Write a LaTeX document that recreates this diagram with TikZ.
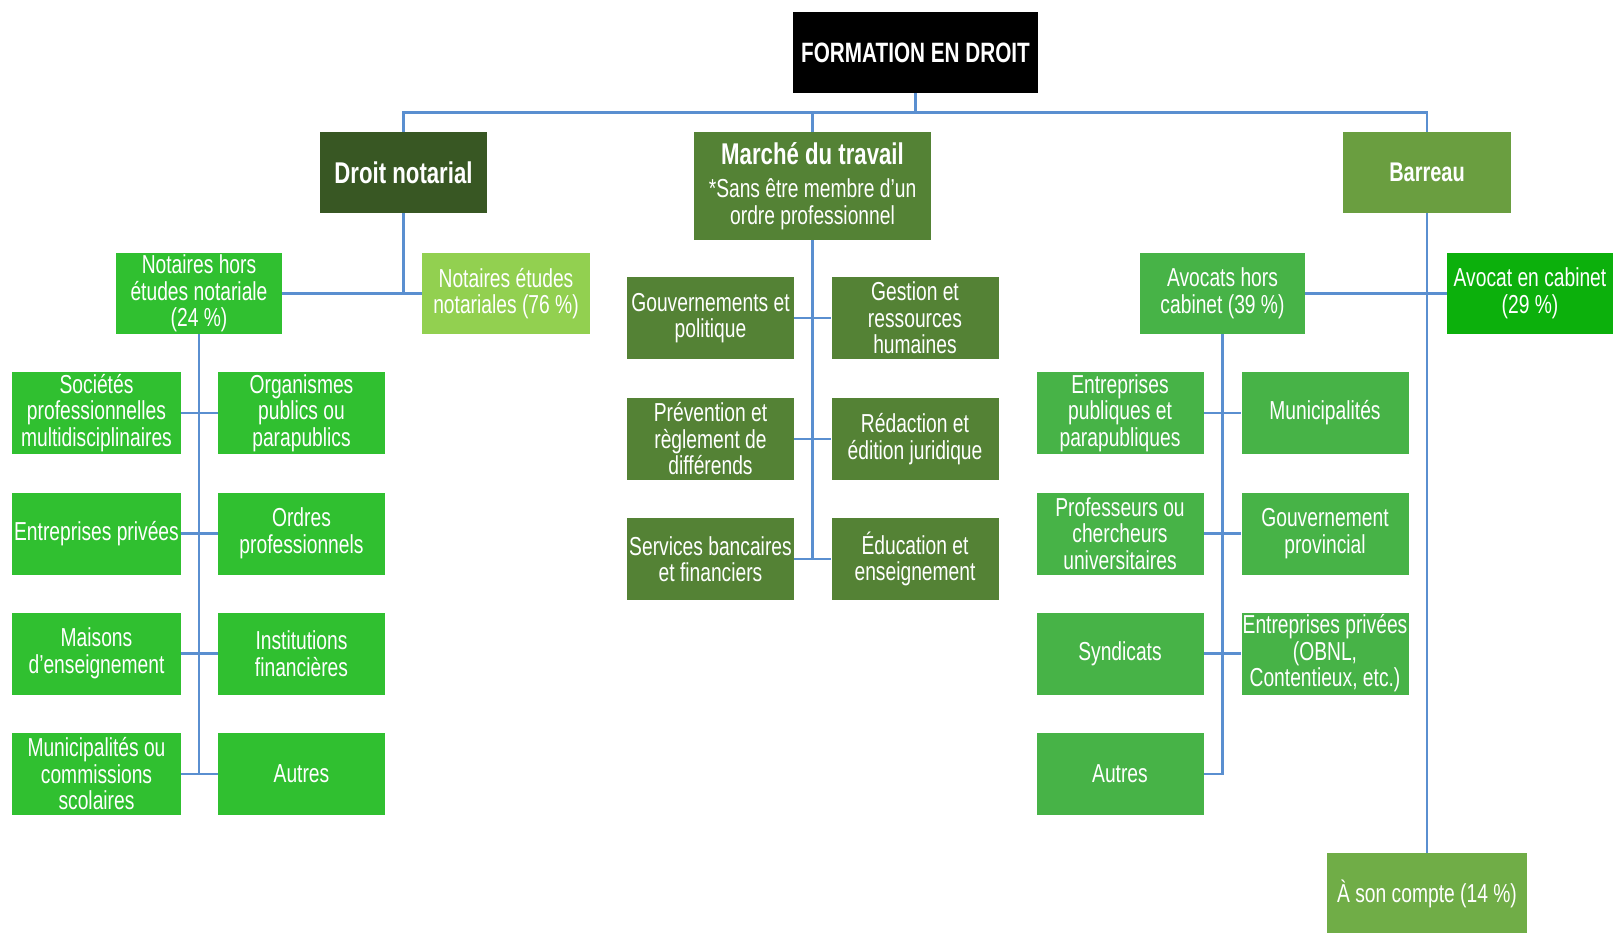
\documentclass[tikz,border=0pt]{standalone}
\usepackage{fontspec}
\setmainfont{Liberation Sans}[FakeStretch=0.74]
\definecolor{lineblue}{HTML}{5A8FD0}
\definecolor{cTop}{HTML}{000000}
\definecolor{cDroit}{HTML}{385723}
\definecolor{cMarche}{HTML}{548235}
\definecolor{cBarreau}{HTML}{6A9E40}
\definecolor{cCompte}{HTML}{70AD47}
\definecolor{cNhors}{HTML}{30C030}
\definecolor{cNetudes}{HTML}{92D050}
\definecolor{cAhors}{HTML}{47B347}
\definecolor{cAcab}{HTML}{0CB00C}
\tikzset{
  box/.style={rectangle, inner sep=0pt, align=center, text=white,
    font=\fontsize{26}{26.5}\selectfont, minimum height=82pt, minimum width=167pt},
  head/.style={box, font=\bfseries\fontsize{30}{32}\selectfont},
  conn/.style={draw=lineblue, line width=2.5pt},
}
\begin{document}
\begin{tikzpicture}[x=1pt,y=-1pt]
\useasboundingbox (0,0) rectangle (1619,932);
\clip (0,0) rectangle (1619,932);
\fill[white] (0,0) rectangle (1619,932);

% top level
\node[head, fill=cTop, minimum width=245pt, minimum height=81pt, font=\bfseries\fontsize{28}{30}\selectfont] (top) at (915.5,52.5) {FORMATION EN DROIT};
\node[head, fill=cDroit, minimum width=167pt, minimum height=81pt] (droit) at (403.5,172.5) {Droit notarial};
\node[box, fill=cMarche, minimum width=237pt, minimum height=108pt] (marche) at (812.5,186)
  {{\bfseries\fontsize{30}{32}\selectfont Marché du travail}\\[7pt]*Sans être membre d’un\\ordre professionnel};
\node[head, fill=cBarreau, minimum width=168pt, minimum height=81pt, font=\bfseries\fontsize{27}{30}\selectfont] (barreau) at (1427,172.5) {Barreau};

% second level
\node[box, fill=cNhors, minimum width=166pt, minimum height=81pt] (nhors) at (199,293.5) {Notaires hors\\études notariale\\(24 \%)};
\node[box, fill=cNetudes, minimum width=168pt, minimum height=81pt] (netudes) at (506,293.5) {Notaires études\\notariales (76 \%)};
\node[box, fill=cAhors, minimum width=165pt, minimum height=81pt] (ahors) at (1222.5,293.5) {Avocats hors\\cabinet (39 \%)};
\node[box, fill=cAcab, minimum width=166pt, minimum height=81pt] (acab) at (1530,293.5) {Avocat en cabinet\\(29 \%)};
\node[box, fill=cCompte, minimum width=200pt, minimum height=82pt] (compte) at (1427,894) {À son compte (14 \%)};

% notaires hors children
\node[box, fill=cNhors, minimum width=169pt] (l1) at (96.5,413) {Sociétés\\professionnelles\\multidisciplinaires};
\node[box, fill=cNhors, minimum width=169pt] (l2) at (96.5,533.5) {Entreprises privées};
\node[box, fill=cNhors, minimum width=169pt] (l3) at (96.5,653.5) {Maisons\\d’enseignement};
\node[box, fill=cNhors, minimum width=169pt] (l4) at (96.5,774) {Municipalités ou\\commissions\\scolaires};
\node[box, fill=cNhors] (r1) at (301.5,413) {Organismes\\publics ou\\parapublics};
\node[box, fill=cNhors] (r2) at (301.5,533.5) {Ordres\\professionnels};
\node[box, fill=cNhors] (r3) at (301.5,653.5) {Institutions\\financières};
\node[box, fill=cNhors] (r4) at (301.5,774) {Autres};

% marche children
\node[box, fill=cMarche] (m1) at (710.5,318) {Gouvernements et\\politique};
\node[box, fill=cMarche] (m2) at (710.5,439) {Prévention et\\règlement de\\différends};
\node[box, fill=cMarche] (m3) at (710.5,559) {Services bancaires\\et financiers};
\node[box, fill=cMarche] (n1) at (915,318) {Gestion et\\ressources\\humaines};
\node[box, fill=cMarche] (n2) at (915,439) {Rédaction et\\édition juridique};
\node[box, fill=cMarche] (n3) at (915,559) {Éducation et\\enseignement};

% avocats hors children
\node[box, fill=cAhors] (a1) at (1120,413) {Entreprises\\publiques et\\parapubliques};
\node[box, fill=cAhors] (a2) at (1120,533.5) {Professeurs ou\\chercheurs\\universitaires};
\node[box, fill=cAhors] (a3) at (1120,653.5) {Syndicats};
\node[box, fill=cAhors] (a4) at (1120,774) {Autres};
\node[box, fill=cAhors] (b1) at (1325,413) {Municipalités};
\node[box, fill=cAhors] (b2) at (1325,533.5) {Gouvernement\\provincial};
\node[box, fill=cAhors] (b3) at (1325,653.5) {Entreprises privées\\(OBNL,\\Contentieux, etc.)};

% connectors: top level
\coordinate (bar) at (0,112.5);
\draw[conn] (top.south) -- (top.south |- bar);
\draw[conn] (droit.north) -- (droit.north |- bar) -- (barreau.north |- bar) -- (barreau.north);
\draw[conn] (marche.north) -- (marche.north |- bar);

% droit notarial
\draw[conn] (droit.south) -- (droit.south |- nhors.east);
\draw[conn] (nhors.east) -- (netudes.west);
\draw[conn] (nhors.south) -- (nhors.south |- l4.east);
\foreach \i in {1,2,3,4} { \draw[conn] (l\i.east) -- (r\i.west); }

% marche
\draw[conn] (marche.south) -- (marche.south |- m3.east);
\foreach \i in {1,2,3} { \draw[conn] (m\i.east) -- (n\i.west); }

% barreau
\draw[conn] (barreau.south) -- (compte.north);
\draw[conn] (ahors.east) -- (acab.west);
\draw[conn] (ahors.south) -- (ahors.south |- a4.east) -- (a4.east);
\foreach \i in {1,2,3} { \draw[conn] (a\i.east) -- (b\i.west); }
\end{tikzpicture}
\end{document}
